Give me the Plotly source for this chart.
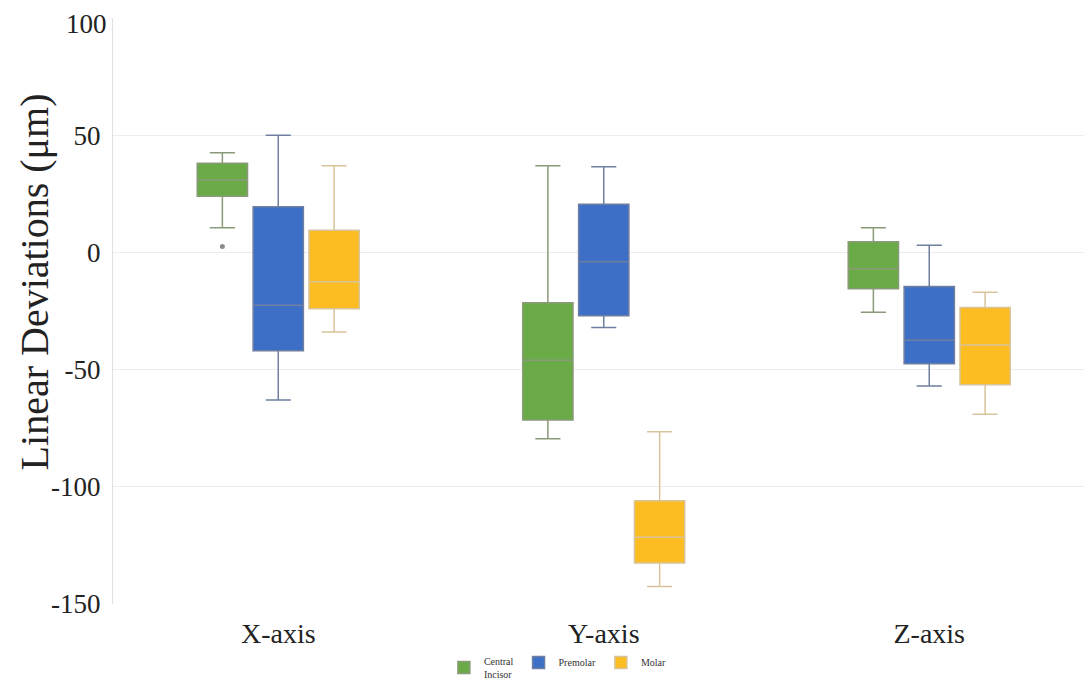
import plotly.graph_objects as go

categories = ["X-axis", "Y-axis", "Z-axis"]
series_names = ["Central<br>Incisor", "Premolar", "Molar"]
colors = ["#6aab47", "#3d6fc6", "#fbbd22"]
line_colors = ["#8a9a7a", "#6f7fa0", "#d8c49a"]

# [X-axis, Y-axis, Z-axis]
lower = {
    "ci": [10.5, -79.5, -25.5],
    "pm": [-63.0, -32.0, -57.0],
    "mo": [-34.0, -142.5, -69.0],
}
q1 = {
    "ci": [24.0, -71.5, -15.5],
    "pm": [-42.0, -27.0, -47.5],
    "mo": [-24.0, -132.5, -56.5],
}
median = {
    "ci": [31.0, -46.0, -7.0],
    "pm": [-22.5, -4.0, -37.5],
    "mo": [-12.5, -121.5, -39.5],
}
q3 = {
    "ci": [38.0, -21.5, 4.5],
    "pm": [19.5, 20.5, -14.5],
    "mo": [9.5, -106.0, -23.5],
}
upper = {
    "ci": [42.5, 37.0, 10.5],
    "pm": [50.0, 36.5, 3.0],
    "mo": [37.0, -76.5, -17.0],
}
outlier_cat = ["X-axis"]
outlier_val = [2.5]

tick_vals = [-150, -100, -50, 0, 50, 100]
tick_text = ["-150", "-100", "-50", "0", "50", ""]
top_tick_label = "100"
y_title = "Linear Deviations (μm)"

keys = ["ci", "pm", "mo"]
fig = go.Figure()
for i, k in enumerate(keys):
    fig.add_trace(go.Box(
        x=categories,
        q1=q1[k], median=median[k], q3=q3[k],
        lowerfence=lower[k], upperfence=upper[k],
        name=series_names[i],
        fillcolor=colors[i],
        line=dict(color=line_colors[i], width=1.5),
        whiskerwidth=0.5,
        boxpoints=False,
        offsetgroup=str(i),
        legendgroup=str(i),
    ))

fig.add_trace(go.Box(
    x=outlier_cat, y=outlier_val,
    offsetgroup="0", legendgroup="0", showlegend=False,
    boxpoints="all", jitter=0, pointpos=0,
    fillcolor="rgba(0,0,0,0)", line=dict(color="rgba(0,0,0,0)", width=0),
    marker=dict(color="#8a8a8a", size=5),
    hoverinfo="y",
))

fig.add_annotation(
    text=y_title, textangle=-90, xref="paper", yref="paper",
    x=-0.08, y=0.55, xanchor="center", yanchor="middle", showarrow=False,
    font=dict(size=40, color="#222"),
)
# top tick label placed inside the page so it is not clipped
fig.add_annotation(
    text=top_tick_label, xref="paper", yref="paper",
    x=0, xshift=-5, y=1.017, xanchor="right", yanchor="top", showarrow=False,
    font=dict(size=27, color="#222"), borderpad=0,
)

fig.update_layout(
    width=1084, height=674,
    boxmode="group", boxgap=0.485, boxgroupgap=0.1,
    paper_bgcolor="white", plot_bgcolor="white",
    margin=dict(l=105, r=0, t=10, b=78, autoexpand=False),
    font=dict(family="Liberation Serif, Times New Roman, serif", color="#222"),
    showlegend=True,
    legend=dict(orientation="h", x=0.338, xanchor="left", y=-0.075, yanchor="top",
                font=dict(size=10, color="#333"), itemwidth=30, tracegroupgap=0,
                traceorder="normal"),
    xaxis=dict(categoryorder="array", categoryarray=categories, automargin=False,
               tickfont=dict(size=28), showgrid=False, showline=False, ticks="",
               ticklabelstandoff=10),
    yaxis=dict(range=[-150, 100], tickvals=tick_vals, ticktext=tick_text, automargin=False,
               tickfont=dict(size=27), showgrid=True, gridcolor="#ececec",
               zeroline=False, showline=True, linecolor="#e0e0e0", ticks="",
               ticklabelstandoff=6),
)

fig.write_html("out.html")
